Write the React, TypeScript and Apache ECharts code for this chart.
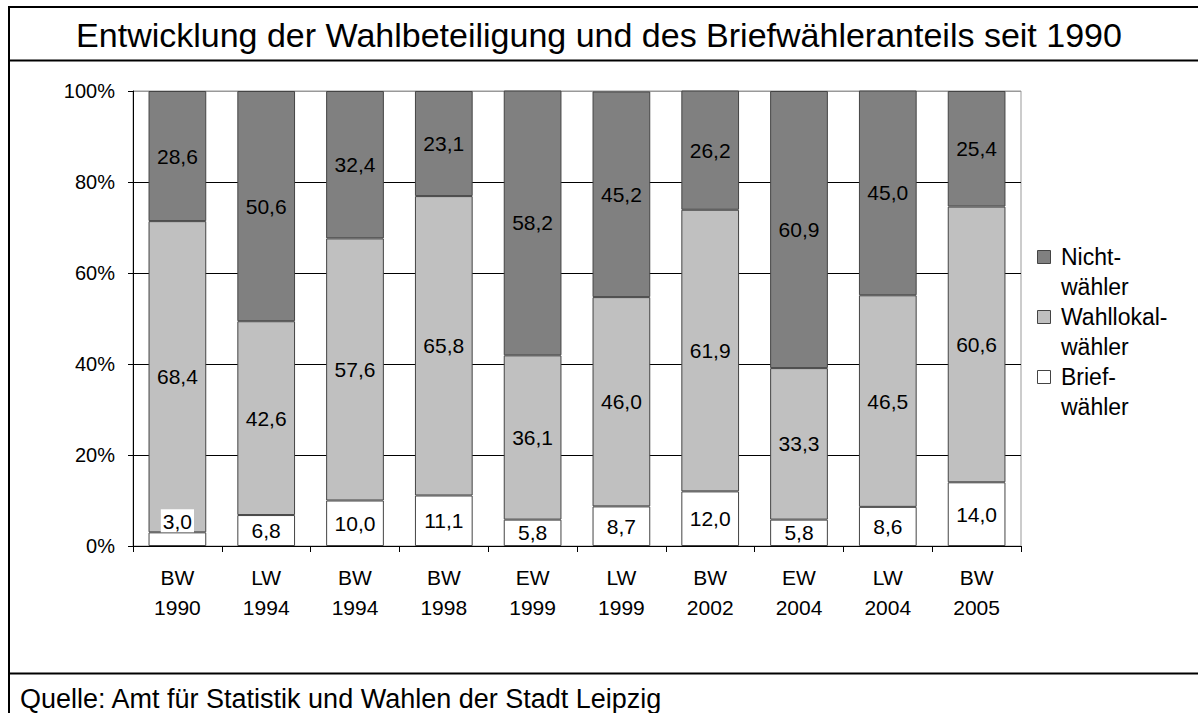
import React, { useEffect, useRef } from "react";
import * as echarts from "echarts";

const categories = ["BW\n1990", "LW\n1994", "BW\n1994", "BW\n1998", "EW\n1999", "LW\n1999", "BW\n2002", "EW\n2004", "LW\n2004", "BW\n2005"];
const briefwaehler = [3.0, 6.8, 10.0, 11.1, 5.8, 8.7, 12.0, 5.8, 8.6, 14.0];
const wahllokalwaehler = [68.4, 42.6, 57.6, 65.8, 36.1, 46.0, 61.9, 33.3, 46.5, 60.6];
const nichtwaehler = [28.6, 50.6, 32.4, 23.1, 58.2, 45.2, 26.2, 60.9, 45.0, 25.4];
const seriesNames = ["Nichtwähler", "Wahllokalwähler", "Briefwähler"];
const legendLines = [["Nicht-", "wähler"], ["Wahllokal-", "wähler"], ["Brief-", "wähler"]];
const colors = ["#808080", "#c0c0c0", "#ffffff"];
const yTicks = [0, 20, 40, 60, 80, 100];

const FONT = '"Liberation Sans", Arial, sans-serif';
const fmt = (v: number) => v.toFixed(1).replace(".", ",");

export default function App() {
  const ref = useRef<HTMLDivElement>(null);
  useEffect(() => {
    document.body.style.margin = "0";
    const chart = echarts.init(ref.current!, null, { renderer: "svg" });
    const labelBase = {
      show: true,
      position: "inside" as const,
      color: "#000",
      fontSize: 21,
      fontFamily: FONT,
      formatter: (p: any) => fmt(p.value),
    };
    const itemStyle = (c: string) => ({ color: c, borderColor: "#444", borderWidth: 1 });

    const briefData = briefwaehler.map((v, i) =>
      i === 0
        ? {
            value: v,
            label: {
              position: "top",
              distance: 0,
              backgroundColor: "#fff",
              padding: [2, 2, 0, 2],
            },
          }
        : v
    );

    const legendGraphics: any[] = [];
    legendLines.forEach((lines, i) => {
      const y0 = 257 + i * 60;
      legendGraphics.push({
        type: "rect",
        shape: { x: 1037.5, y: y0 - 6.5, width: 13, height: 13 },
        style: { fill: colors[i], stroke: "#444", lineWidth: 1 },
      });
      lines.forEach((t, j) => {
        legendGraphics.push({
          type: "text",
          x: 1061,
          y: y0 + j * 30,
          style: { text: t, fontSize: 23, fontFamily: FONT, fill: "#000", verticalAlign: "middle", align: "left" },
        });
      });
    });

    chart.setOption({
      animation: false,
      backgroundColor: "#fff",
      grid: {
        left: 133,
        top: 91,
        width: 888,
        height: 455,
        show: true,
        borderColor: "#999",
        borderWidth: 1,
        backgroundColor: "transparent",
      },
      xAxis: {
        type: "category",
        data: categories,
        axisLine: { lineStyle: { color: "#000", width: 1 } },
        axisTick: { show: true, length: 6, lineStyle: { color: "#000" } },
        axisLabel: { color: "#000", fontSize: 21, fontFamily: FONT, lineHeight: 30, margin: 16 },
      },
      yAxis: {
        type: "value",
        min: 0,
        max: 100,
        interval: 20,
        axisLine: { show: true, lineStyle: { color: "#000", width: 1 } },
        axisTick: { show: true, length: 5, lineStyle: { color: "#000" } },
        axisLabel: { color: "#000", fontSize: 20, fontFamily: FONT, margin: 18, formatter: "{value}%" },
        splitLine: {
          show: true,
          lineStyle: { color: yTicks.map((t) => (t === 100 ? "#999" : "#000")), width: 1 },
        },
      },
      series: [
        {
          name: seriesNames[2],
          type: "bar",
          stack: "total",
          barCategoryGap: "35%",
          data: briefData,
          itemStyle: itemStyle(colors[2]),
          label: labelBase,
        },
        {
          name: seriesNames[1],
          type: "bar",
          stack: "total",
          barCategoryGap: "35%",
          data: wahllokalwaehler,
          itemStyle: itemStyle(colors[1]),
          label: labelBase,
        },
        {
          name: seriesNames[0],
          type: "bar",
          stack: "total",
          barCategoryGap: "35%",
          data: nichtwaehler,
          itemStyle: itemStyle(colors[0]),
          label: labelBase,
        },
      ],
      graphic: [
        {
          type: "rect",
          shape: { x: 9, y: 7, width: 1220, height: 740 },
          style: { fill: "none", stroke: "#000", lineWidth: 2 },
          silent: true,
        },
        {
          type: "line",
          shape: { x1: 9, y1: 60.5, x2: 1198, y2: 60.5 },
          style: { stroke: "#000", lineWidth: 2 },
        },
        {
          type: "line",
          shape: { x1: 9, y1: 673.5, x2: 1198, y2: 673.5 },
          style: { stroke: "#000", lineWidth: 2 },
        },
        {
          type: "text",
          x: 599,
          y: 35,
          style: {
            text: "Entwicklung der Wahlbeteiligung und des Briefwähleranteils seit 1990",
            fontSize: 34,
            fontFamily: FONT,
            fill: "#000",
            align: "center",
            verticalAlign: "middle",
          },
        },
        {
          type: "text",
          x: 20,
          y: 712,
          style: {
            text: "Quelle: Amt für Statistik und Wahlen der Stadt Leipzig",
            fontSize: 27,
            fontFamily: FONT,
            fill: "#000",
            align: "left",
            verticalAlign: "bottom",
          },
        },
        ...legendGraphics,
      ],
    });
    return () => chart.dispose();
  }, []);
  return <div ref={ref} style={{ width: 1198, height: 713 }} />;
}
